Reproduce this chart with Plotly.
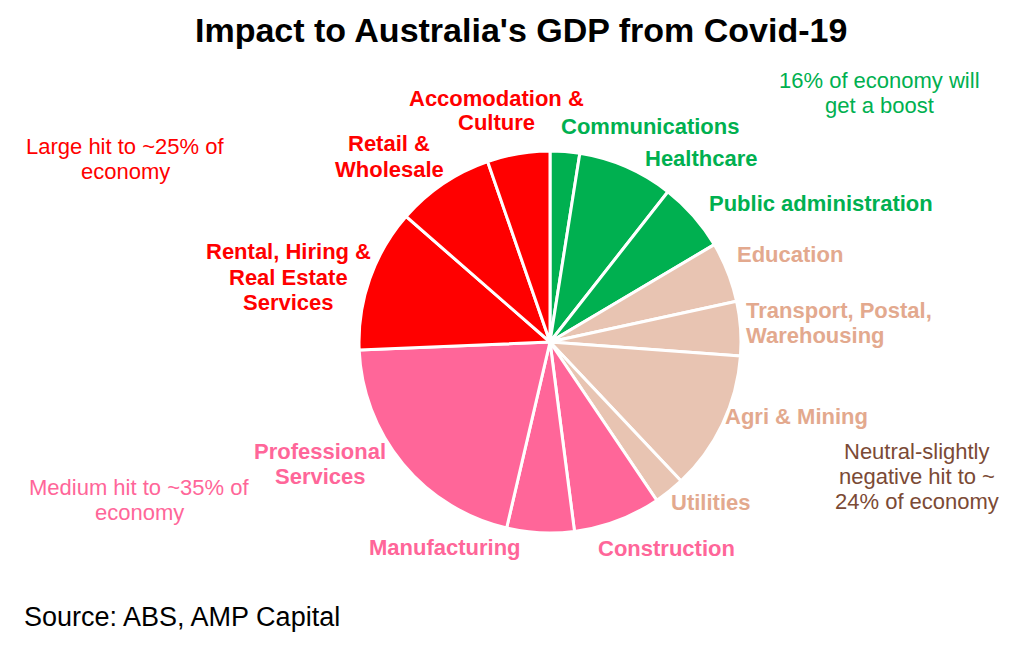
import plotly.graph_objects as go

# ---- data (clockwise from 12 o'clock) ----
sectors = ["Communications", "Healthcare", "Public administration", "Education",
           "Transport, Postal, Warehousing", "Agri & Mining", "Utilities",
           "Construction", "Manufacturing", "Professional Services",
           "Rental, Hiring & Real Estate Services", "Retail & Wholesale",
           "Accomodation & Culture"]
shares = [2.5, 8.1, 5.9, 5.1, 4.6, 11.8, 2.6, 7.4, 5.7, 20.7, 12.1, 8.3, 5.3]
groups = ["boost", "boost", "boost", "neutral", "neutral", "neutral", "neutral",
          "medium", "medium", "medium", "large", "large", "large"]

group_fill = {"boost": "#00B050", "neutral": "#E8C4B2", "medium": "#FF6699", "large": "#FF0000"}
group_text = {"boost": "#00B050", "neutral": "#E3A98E", "medium": "#FF6699", "large": "#FF0000"}

# label lines for each sector, and placement (x, first-line y, anchor)
label_lines = [["Communications"], ["Healthcare"], ["Public administration"], ["Education"],
               ["Transport, Postal,", "Warehousing"], ["Agri & Mining"], ["Utilities"],
               ["Construction"], ["Manufacturing"], ["Professional", "Services"],
               ["Rental, Hiring &", "Real Estate", "Services"], ["Retail &", "Wholesale"],
               ["Accomodation &", "Culture"]]
label_pos = [(650, 127, "center"), (701, 158, "center"), (821, 204, "center"),
             (790, 255, "center"), (744, 310, "left"), (796, 416, "center"),
             (710, 503, "center"), (666, 548, "center"), (445, 547, "center"),
             (320, 451, "center"), (288, 252, "center"), (389, 144, "center"),
             (496, 98, "center")]

note_lines = [["16% of economy will", "get a boost"],
              ["Large hit to ~25% of", "economy"],
              ["Medium hit to ~35% of", "economy"],
              ["Neutral-slightly", "negative hit to ~", "24% of economy"]]
note_colors = ["#00B050", "#FF0000", "#FF6699", "#7B4A35"]
note_pos = [(879, 80), (125, 146), (139, 487), (917, 451)]

title = "Impact to Australia's GDP from Covid-19"
source = "Source: ABS, AMP Capital"

W, H = 1024, 647
cx, cy, r = 550, 342, 191
LINE = 25

fig = go.Figure(go.Pie(
    labels=sectors,
    values=shares,
    sort=False,
    direction="clockwise",
    rotation=0,
    marker=dict(colors=[group_fill[g] for g in groups], line=dict(color="white", width=3)),
    textinfo="none",
    hoverinfo="label+value",
    showlegend=False,
    domain=dict(x=[(cx - r) / W, (cx + r) / W], y=[(H - cy - r) / H, (H - cy + r) / H]),
))

ann = []
for lines, (x, y, al), g in zip(label_lines, label_pos, groups):
    for i, t in enumerate(lines):
        ann.append(dict(text="<b>" + t + "</b>", x=x / W, y=1 - (y + i * LINE) / H,
                        xref="paper", yref="paper", xanchor=al, yanchor="middle",
                        showarrow=False,
                        font=dict(family="Liberation Sans", size=22, color=group_text[g])))
for lines, c, (x, y) in zip(note_lines, note_colors, note_pos):
    for i, t in enumerate(lines):
        ann.append(dict(text=t, x=x / W, y=1 - (y + i * LINE) / H,
                        xref="paper", yref="paper", xanchor="center", yanchor="middle",
                        showarrow=False,
                        font=dict(family="Liberation Sans", size=22, color=c)))
ann.append(dict(text="<b>" + title + "</b>", x=521 / W, y=1 - 30 / H, xref="paper", yref="paper",
                xanchor="center", yanchor="middle", showarrow=False,
                font=dict(family="Liberation Sans", size=34, color="black")))
ann.append(dict(text=source, x=22 / W, y=1 - 617 / H, xref="paper", yref="paper",
                xanchor="left", yanchor="middle", showarrow=False,
                font=dict(family="Liberation Sans", size=27, color="black")))

fig.update_layout(
    width=W, height=H,
    margin=dict(l=0, r=0, t=0, b=0),
    paper_bgcolor="white", plot_bgcolor="white",
    annotations=ann,
)

fig.write_html("out.html", config={"displayModeBar": False},
               post_script="document.body.style.margin='0';document.body.style.overflow='hidden';")
